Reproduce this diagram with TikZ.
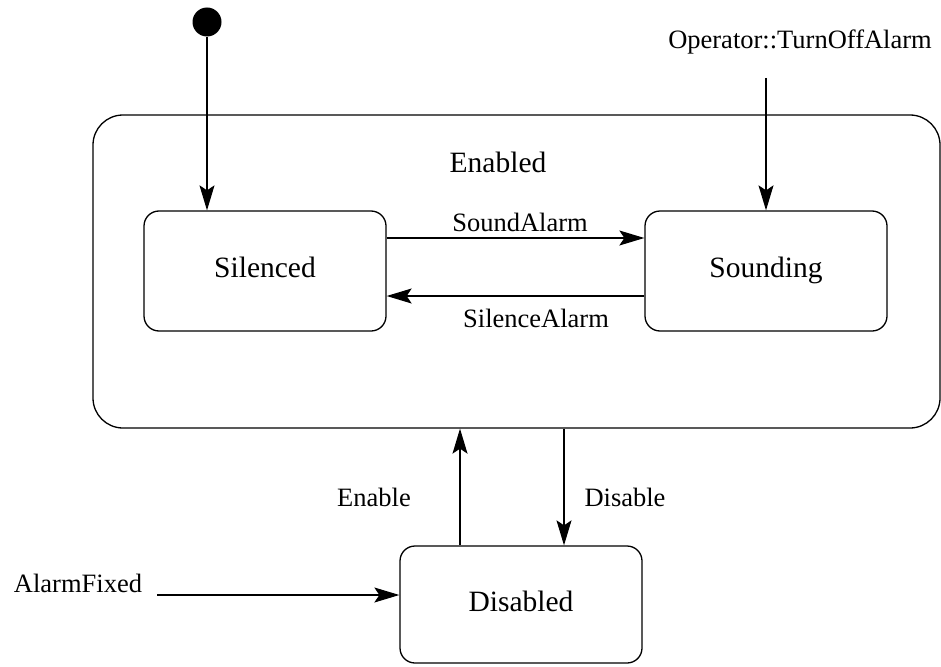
\documentclass[tikz,border=0pt]{standalone}
\usepackage{fontspec}
\setmainfont{Liberation Serif}
\newfontfamily\timesfont{Liberation Serif}
\usetikzlibrary{arrows.meta,positioning}

\tikzset{
    statebox/.style={rectangle, draw, line width=1.3pt, rounded corners=15pt, minimum width=242pt, minimum height=120pt, inner sep=0pt, text height=20pt, text depth=7pt, font=\timesfont\fontsize{29.5}{32}\selectfont},
    lbl/.style={inner sep=0pt, font=\timesfont\fontsize{26.5}{29}\selectfont},
    trans/.style={line width=1.2pt, -{Stealth[length=25pt, width=15pt, inset=5pt]}}
}

\begin{document}
\begin{tikzpicture}[x=1pt, y=-1pt]
    \useasboundingbox (0,0) rectangle (941,666);

    \node[rectangle, draw, line width=1.3pt, rounded corners=30pt, minimum width=847pt, minimum height=313pt, inner sep=0pt] at (516.5, 271.5) (enabled) {};
    \node[inner sep=0pt, font=\timesfont\fontsize{29.5}{32}\selectfont] at (498, 162) (enabledname) {Enabled};

    \node[statebox] at (265, 271) (silenced) {Silenced};
    \node[statebox] at (766, 271) (sounding) {Sounding};
    \node[statebox, minimum height=117pt] at (521, 604.5) (disabled) {Disabled};

    \node[circle, fill, inner sep=0pt, minimum size=29pt] at (207, 22) (init) {};
    \draw[trans] (init) -- (init |- silenced.north);

    \node[lbl] at (800, 42) (opname) {Operator::TurnOffAlarm};
    \coordinate (opend) at (766, 78);
    \draw[trans] (opend) -- (opend |- sounding.north);

    \draw[trans] ([yshift=33pt] silenced.east) -- ([yshift=33pt] sounding.west);
    \node[lbl] at (520, 222) (soundlbl) {SoundAlarm};

    \draw[trans] ([yshift=-25pt] sounding.west) -- ([yshift=-25pt] silenced.east);
    \node[lbl] at (536, 318) (silencelbl) {SilenceAlarm};

    \draw[trans] ([xshift=-61pt] disabled.north) -- ([xshift=-61pt] disabled.north |- enabled.south);
    \node[lbl] at (374, 497) (enablelbl) {Enable};

    \draw[trans] ([xshift=43pt] disabled.north |- enabled.south) -- ([xshift=43pt] disabled.north);
    \node[lbl] at (625, 497) (disablelbl) {Disable};

    \node[lbl] at (78, 583) (fixedname) {AlarmFixed};
    \coordinate (fixedend) at (157, 595);
    \draw[trans] (fixedend) -- (fixedend -| disabled.west);
\end{tikzpicture}
\end{document}
